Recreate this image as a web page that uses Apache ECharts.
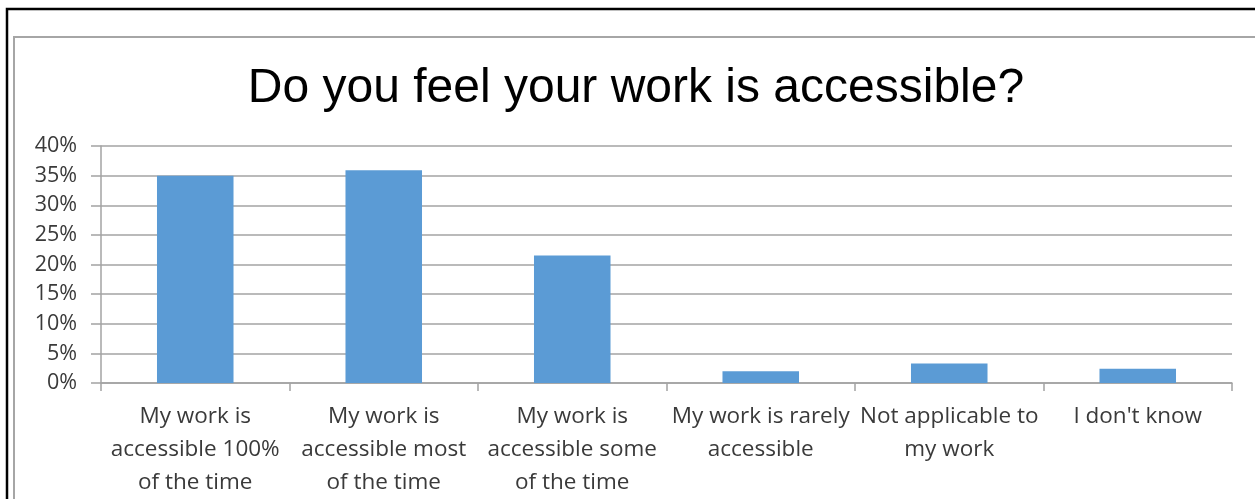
<!DOCTYPE html>
<html>
<head>
<meta charset="utf-8">
<script src="https://cdn.jsdelivr.net/npm/echarts@6/dist/echarts.min.js"></script>
<style>
  html, body { margin: 0; padding: 0; background: #ffffff; }
  #chart { width: 1255px; height: 499px; }
</style>
</head>
<body>
<div id="chart"></div>
<script>
// Survey answers (share of respondents, in percent)
const chartTitle = 'Do you feel your work is accessible?';
const categories = [
  'My work is\naccessible 100%\nof the time',
  'My work is\naccessible most\nof the time',
  'My work is\naccessible some\nof the time',
  'My work is rarely\naccessible',
  'Not applicable to\nmy work',
  "I don't know"
];
const shares = [35.0, 35.9, 21.5, 2.0, 3.3, 2.4];
const yTicks = [0, 5, 10, 15, 20, 25, 30, 35, 40];

const labelFont = '"Open Sans", Lato, sans-serif';
const gridGray = '#a3a3a3';

const chart = echarts.init(document.getElementById('chart'), null, { renderer: 'canvas' });

chart.setOption({
  backgroundColor: '#ffffff',
  animation: false,
  graphic: [
    // outer frame
    { type: 'rect', silent: true, z: 0,
      shape: { x: 7, y: 9, width: 1400, height: 700 },
      style: { fill: 'none', stroke: '#000000', lineWidth: 2.5 } },
    // chart area border
    { type: 'rect', silent: true, z: 0,
      shape: { x: 14, y: 37, width: 1400, height: 700 },
      style: { fill: 'none', stroke: '#a6a6a6', lineWidth: 2 } },
    // chart title
    { type: 'text', silent: true, z: 10,
      x: 636, y: 89,
      style: {
        text: chartTitle,
        fontFamily: '"Liberation Sans", Arial, sans-serif',
        fontSize: 48,
        fill: '#000000',
        align: 'center',
        verticalAlign: 'middle'
      } }
  ],
  grid: { left: 101, right: 23, top: 146, bottom: 116, containLabel: false },
  xAxis: {
    type: 'category',
    data: categories,
    boundaryGap: true,
    axisLine: { show: true, lineStyle: { color: gridGray, width: 1.5 } },
    axisTick: { show: true, length: 8, alignWithLabel: false, lineStyle: { color: gridGray, width: 1.5 } },
    axisLabel: {
      interval: 0,
      margin: 17,
      color: '#3a3a3a',
      fontFamily: labelFont,
      fontSize: 22.5,
      lineHeight: 33
    },
    splitLine: { show: false }
  },
  yAxis: {
    type: 'value',
    min: yTicks[0],
    max: yTicks[yTicks.length - 1],
    interval: yTicks[1] - yTicks[0],
    axisLine: { show: true, lineStyle: { color: gridGray, width: 1.5 } },
    axisTick: { show: true, length: 10, lineStyle: { color: gridGray, width: 1.5 } },
    axisLabel: {
      margin: 24,
      color: '#3a3a3a',
      fontFamily: labelFont,
      fontSize: 21.5,
      formatter: '{value}%'
    },
    splitLine: { show: true, lineStyle: { color: gridGray, width: 1.5 } }
  },
  series: [{
    type: 'bar',
    data: shares,
    barWidth: '40.6%',
    itemStyle: { color: '#5b9bd5' }
  }]
});
</script>
</body>
</html>
